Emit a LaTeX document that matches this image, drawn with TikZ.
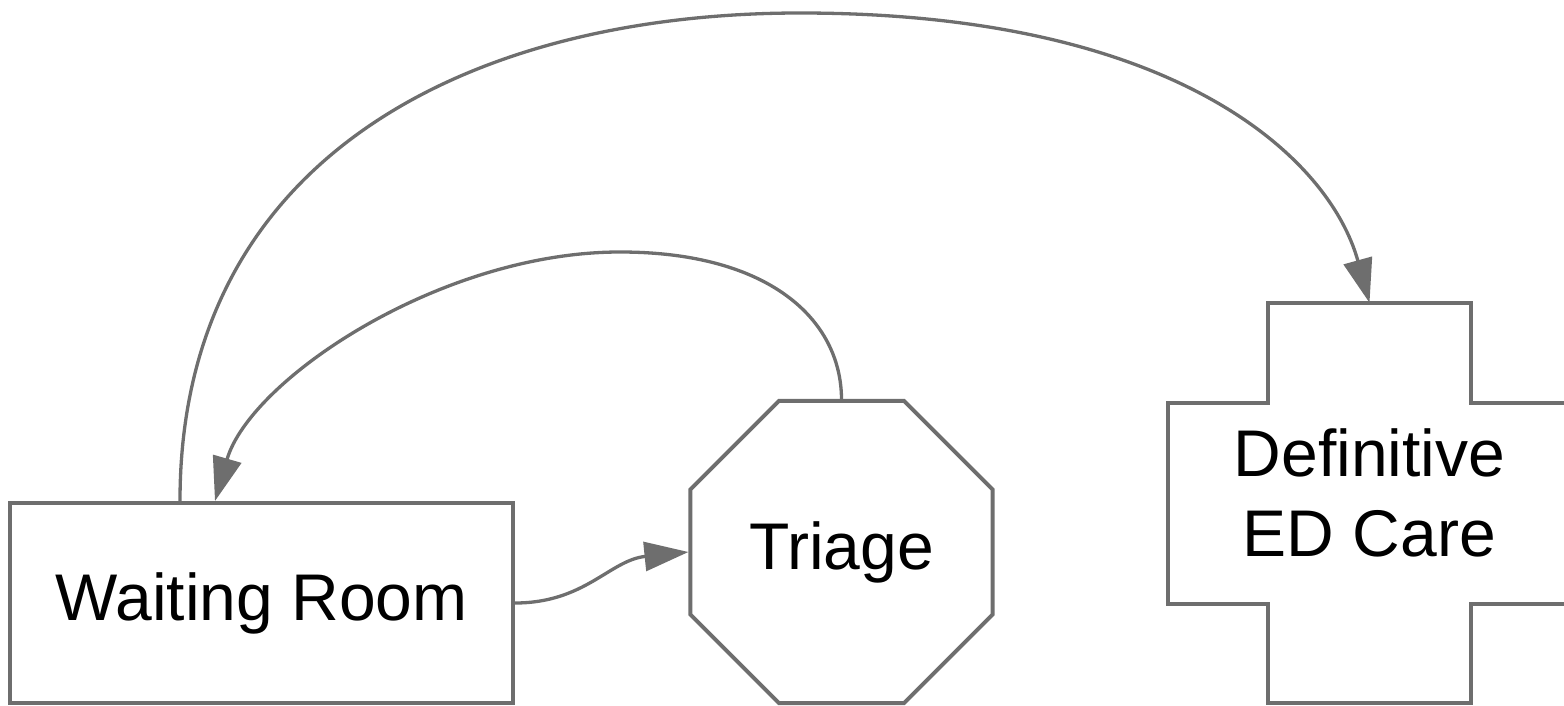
\documentclass[tikz,border=0pt]{standalone}
\usepackage{fontspec}
\setmainfont{Liberation Sans}
\usetikzlibrary{arrows.meta,shapes.geometric,calc}
\definecolor{edge}{RGB}{110,110,110}
\begin{document}
\begin{tikzpicture}[x=1pt,y=-1pt,
  label text/.style={font=\fontsize{66}{80}\selectfont,text=black},
  shapebox/.style={draw=edge,line width=4pt,fill=white,inner sep=0pt,label text},
  flow/.style={draw=edge,line width=3.3pt,-{Triangle[length=44pt,width=29pt]}}]
\useasboundingbox (0,0) rectangle (1564,706);
\clip (0,0) rectangle (1564,706);
% nodes
\node[shapebox,minimum width=503pt,minimum height=200pt] (wr) at (261.5,603) {Waiting Room};
\node[shapebox,regular polygon,regular polygon sides=8,minimum size=327pt] (tr) at (841.5,552) {Triage};
\node[minimum width=203pt,minimum height=400pt,inner sep=0pt] (ed) at (1369.5,503) {};
\draw[draw=edge,line width=4pt,fill=white,shift={(ed.center)}]
  (-101.5,-200) -- (101.5,-200) -- (101.5,-100) -- (201.5,-100) -- (201.5,101)
  -- (101.5,101) -- (101.5,200) -- (-101.5,200) -- (-101.5,101) -- (-201.5,101)
  -- (-201.5,-100) -- (-101.5,-100) -- cycle;
\node[label text,align=center,inner sep=0pt] (edt) at ([yshift=10pt]ed.center) {Definitive\\ED Care};
% connectors
\draw[flow] (wr.east) .. controls (585,603) and (610,560) .. (tr.180);
\draw[flow] (tr.90) .. controls (841,320) and (770,252) .. (620,252)
  .. controls (440,252) and (250,380) .. ([xshift=-46.5pt]wr.north);
\draw[flow] ([xshift=-81.5pt]wr.north) .. controls (180,150) and (480,13) .. (800,13)
  .. controls (1180,13) and (1330,160) .. (ed.north);
\end{tikzpicture}
\end{document}
